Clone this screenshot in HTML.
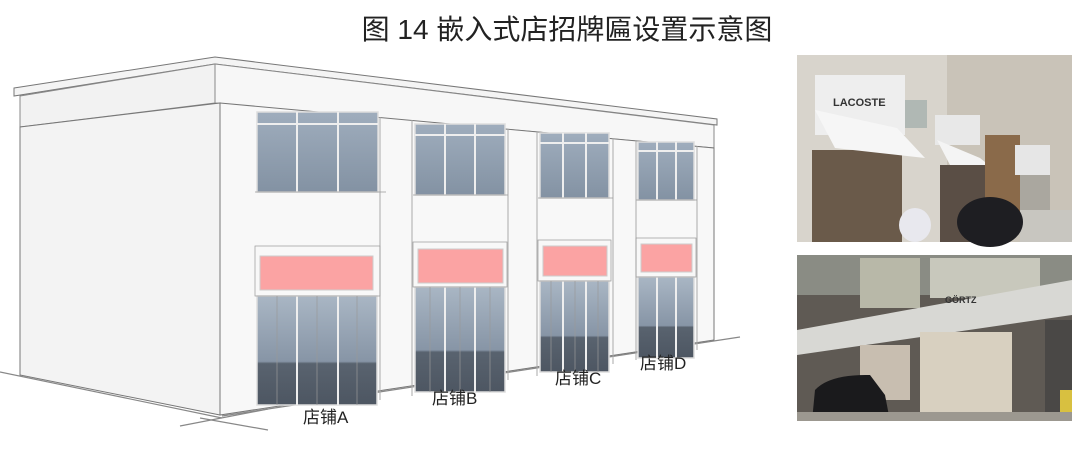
<!DOCTYPE html>
<html><head><meta charset="utf-8"><style>
html,body{margin:0;padding:0;background:#fff;width:1081px;height:457px;overflow:hidden}
</style></head><body>
<svg width="1081" height="457" viewBox="0 0 1081 457" xmlns="http://www.w3.org/2000/svg" font-family="'Liberation Sans','Noto Sans CJK SC',sans-serif">
<defs>
<linearGradient id="glass" x1="0" y1="0" x2="0" y2="1"><stop offset="0" stop-color="#a9b6c4"/><stop offset="0.6" stop-color="#8795a6"/><stop offset="0.62" stop-color="#59636f"/><stop offset="1" stop-color="#4d5662"/></linearGradient>
<linearGradient id="uglass" x1="0" y1="0" x2="0" y2="1"><stop offset="0" stop-color="#9fadbd"/><stop offset="1" stop-color="#8392a3"/></linearGradient>
</defs>
<text x="567" y="39" text-anchor="middle" font-size="28" fill="#222">图 14  嵌入式店招牌匾设置示意图</text>
<g stroke="#888" stroke-width="1.2" fill="none">
<line x1="0" y1="372" x2="222" y2="418"/>
<line x1="180" y1="426" x2="268" y2="409"/>
<line x1="200" y1="418" x2="268" y2="430"/>
<line x1="222" y1="416" x2="740" y2="337"/>
</g>
<polygon points="14,88 215,57 717,119 717,125 215,64 14,96" fill="#f4f4f4" stroke="#777" stroke-width="1"/>
<polygon points="20,96 215,64 215,103 20,127" fill="#f2f2f2" stroke="#888" stroke-width="1"/>
<polygon points="215,64 714,125 714,148 215,103" fill="#f7f7f7" stroke="#888" stroke-width="1"/>
<polygon points="20,127 220,103 220,415 20,375" fill="#f3f3f3" stroke="#777" stroke-width="1"/>
<polygon points="220,103 714,148 714,340 220,415" fill="#f8f8f8" stroke="#777" stroke-width="1"/>
<g stroke="#aaa" stroke-width="1">
<line x1="380" y1="117" x2="380" y2="400"/><line x1="412" y1="120" x2="412" y2="396"/>
<line x1="508" y1="129" x2="508" y2="380"/><line x1="537" y1="132" x2="537" y2="376"/>
<line x1="613" y1="138" x2="613" y2="364"/><line x1="636" y1="140" x2="636" y2="360"/>
<line x1="697" y1="146" x2="697" y2="350"/>
</g>
<g stroke="#ddd" stroke-width="1.5">
<rect x="257" y="112" width="121" height="80" fill="url(#uglass)"/>
<rect x="257" y="296" width="120" height="109" fill="url(#glass)"/>
<rect x="415" y="124" width="90" height="71" fill="url(#uglass)"/>
<rect x="415" y="287" width="90" height="105" fill="url(#glass)"/>
<rect x="540" y="133" width="69" height="65" fill="url(#uglass)"/>
<rect x="540" y="281" width="69" height="91" fill="url(#glass)"/>
<rect x="638" y="142" width="56" height="58" fill="url(#uglass)"/>
<rect x="638" y="277" width="56" height="81" fill="url(#glass)"/>
</g>
<g stroke="#eee" stroke-width="2">
<line x1="297" y1="112" x2="297" y2="192"/><line x1="338" y1="112" x2="338" y2="192"/><line x1="257" y1="124" x2="378" y2="124"/>
<line x1="297" y1="296" x2="297" y2="405"/><line x1="338" y1="296" x2="338" y2="405"/>
<line x1="445" y1="124" x2="445" y2="195"/><line x1="475" y1="124" x2="475" y2="195"/><line x1="415" y1="135" x2="505" y2="135"/>
<line x1="445" y1="287" x2="445" y2="392"/><line x1="475" y1="287" x2="475" y2="392"/>
<line x1="563" y1="133" x2="563" y2="198"/><line x1="586" y1="133" x2="586" y2="198"/><line x1="540" y1="143" x2="609" y2="143"/>
<line x1="563" y1="281" x2="563" y2="372"/><line x1="586" y1="281" x2="586" y2="372"/>
<line x1="657" y1="142" x2="657" y2="200"/><line x1="676" y1="142" x2="676" y2="200"/><line x1="638" y1="151" x2="694" y2="151"/>
<line x1="657" y1="277" x2="657" y2="358"/><line x1="676" y1="277" x2="676" y2="358"/>
</g>
<g stroke="#999" stroke-width="0.7" fill="none">
<line x1="277" y1="296" x2="277" y2="405"/><line x1="317" y1="296" x2="317" y2="405"/><line x1="357" y1="296" x2="357" y2="405"/>
<line x1="430" y1="287" x2="430" y2="392"/><line x1="460" y1="287" x2="460" y2="392"/><line x1="490" y1="287" x2="490" y2="392"/>
<line x1="551" y1="281" x2="551" y2="372"/><line x1="575" y1="281" x2="575" y2="372"/><line x1="598" y1="281" x2="598" y2="372"/>
<rect x="255" y="246" width="125" height="50"/><rect x="413" y="242" width="94" height="45"/><rect x="538" y="240" width="73" height="41"/><rect x="636" y="238" width="60" height="39"/>
<line x1="255" y1="192" x2="386" y2="192"/><line x1="413" y1="195" x2="508" y2="195"/><line x1="538" y1="198" x2="613" y2="198"/><line x1="636" y1="200" x2="697" y2="200"/>
</g>
<g fill="#fba3a3" stroke="#ccc" stroke-width="1">
<rect x="260" y="256" width="113" height="34"/>
<rect x="418" y="249" width="85" height="34"/>
<rect x="543" y="246" width="64" height="30"/>
<rect x="641" y="244" width="51" height="28"/>
</g>
<g font-size="17" fill="#222">
<text x="303" y="423">店铺A</text>
<text x="432" y="404">店铺B</text>
<text x="555" y="384">店铺C</text>
<text x="640" y="369">店铺D</text>
</g>
<!-- photo 1 -->
<g>
<rect x="797" y="55" width="275" height="187" fill="#c9c3b8"/>
<rect x="797" y="55" width="150" height="187" fill="#d8d4cc"/>
<rect x="812" y="150" width="90" height="92" fill="#6a5a4a"/>
<rect x="815" y="75" width="90" height="60" fill="#eeeeee"/>
<text x="833" y="106" font-size="11" font-weight="bold" fill="#333">LACOSTE</text>
<polygon points="815,110 897,128 925,158 835,148" fill="#f6f6f6"/>
<rect x="905" y="100" width="22" height="28" fill="#b0b8b4"/>
<rect x="935" y="115" width="45" height="30" fill="#e8e8e8"/>
<polygon points="937,140 980,158 995,170 950,165" fill="#f4f4f4"/>
<rect x="940" y="165" width="45" height="77" fill="#5a4e45"/>
<rect x="985" y="135" width="35" height="80" fill="#8a6a4a"/>
<rect x="1015" y="145" width="35" height="30" fill="#e6e6e6"/>
<rect x="1020" y="175" width="30" height="40" fill="#aaa79f"/>
<rect x="1020" y="210" width="52" height="32" fill="#c8c6c0"/>
<ellipse cx="915" cy="225" rx="16" ry="17" fill="#e8e8ee"/>
<ellipse cx="990" cy="222" rx="33" ry="25" fill="#1e1e22"/>
</g>
<!-- photo 2 -->
<g>
<rect x="797" y="255" width="275" height="166" fill="#5f5a54"/>
<rect x="797" y="255" width="275" height="40" fill="#8a8c84"/>
<rect x="860" y="258" width="60" height="50" fill="#b8b8a8"/>
<rect x="930" y="258" width="110" height="40" fill="#c8c8bc"/>
<polygon points="797,330 1072,280 1072,315 797,355" fill="#d8d8d4"/>
<text x="945" y="303" font-size="9" font-weight="bold" fill="#333">GÖRTZ</text>
<rect x="920" y="332" width="92" height="80" fill="#d8d0c0"/>
<rect x="860" y="345" width="50" height="55" fill="#c8beb0"/>
<rect x="1045" y="320" width="27" height="100" fill="#4a4846"/>
<rect x="1060" y="390" width="12" height="31" fill="#d8c040"/>
<path d="M812,421 L815,390 Q830,374 870,375 L885,395 L890,421 Z" fill="#1a1a1c"/>
<rect x="797" y="412" width="275" height="9" fill="#9c9890"/>
</g>
</svg>
</body></html>
